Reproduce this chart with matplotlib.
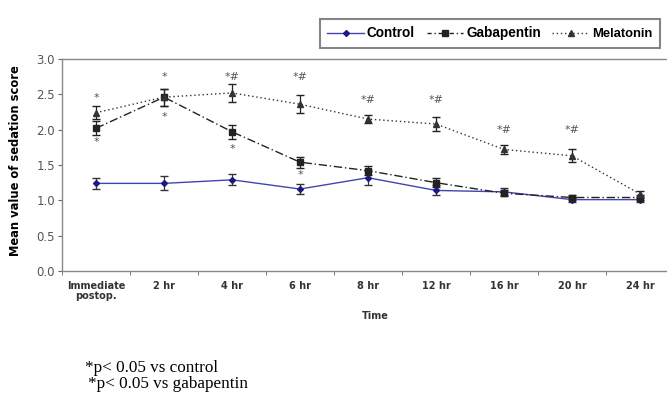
import matplotlib
matplotlib.use("Agg")
import matplotlib.pyplot as plt
from matplotlib.lines import Line2D
import numpy as np

categories = ["Immediate\npostop.", "2 hr", "4 hr", "6 hr", "8 hr", "12 hr", "16 hr", "20 hr", "24 hr"]
control = [1.24, 1.24, 1.29, 1.16, 1.32, 1.14, 1.12, 1.01, 1.01]
control_err = [0.08, 0.10, 0.08, 0.07, 0.10, 0.07, 0.05, 0.03, 0.03]
gabapentin = [2.02, 2.46, 1.97, 1.54, 1.42, 1.25, 1.10, 1.04, 1.04]
gabapentin_err = [0.10, 0.12, 0.10, 0.08, 0.06, 0.06, 0.04, 0.03, 0.03]
melatonin = [2.24, 2.46, 2.52, 2.36, 2.15, 2.08, 1.72, 1.63, 1.09]
melatonin_err = [0.09, 0.12, 0.13, 0.13, 0.06, 0.10, 0.07, 0.09, 0.04]

# significance annotations: (category index, y value, text)
sig_idx = [0, 0, 1, 1, 2, 2, 3, 3, 4, 5, 6, 7]
sig_y = [2.45, 1.82, 2.75, 2.18, 2.75, 1.72, 2.75, 1.36, 2.42, 2.42, 2.00, 2.00]
sig_txt = ["*", "*", "*", "*", "*#", "*", "*#", "*", "*#", "*#", "*#", "*#"]

fig = plt.figure(figsize=(6.67, 3.96), dpi=100)
ax = fig.add_axes([62/667, 125/396, 612/667, 212/396])

x = np.arange(len(categories))
blue = "#4444b0"
navy = "#1a1a80"
ax.errorbar(x, control, yerr=control_err, color=blue, lw=1.0, marker="D", ms=3,
            mfc=navy, mec=navy, ecolor="#333333", elinewidth=0.9, capsize=3)
ax.errorbar(x, gabapentin, yerr=gabapentin_err, color="#222222", lw=1.0, ls=(0, (6, 2, 1, 2)),
            marker="s", ms=4, ecolor="#222222", elinewidth=0.9, capsize=3)
ax.errorbar(x, melatonin, yerr=melatonin_err, color="#333333", lw=1.0, ls=(0, (1, 2)),
            marker="^", ms=4.5, ecolor="#222222", elinewidth=0.9, capsize=3)

for i, yv, t in zip(sig_idx, sig_y, sig_txt):
    ax.text(i, yv, t, ha="center", va="center", fontsize=8, color="#555555")

ax.set_xlim(-0.5, len(categories) - 0.5)
ax.set_ylim(0, 3.0)
yt = np.arange(0, 3.01, 0.5)
ax.set_yticks(yt)
ax.set_yticklabels([f"{v:.1f}" for v in yt], fontsize=8.5, color="#555555")
ax.set_xticks(x)
ax.set_xticklabels(categories, fontsize=7, fontweight="bold", color="#333333", linespacing=1.0)
ax.set_xticks(np.arange(-0.5, len(categories), 1), minor=True)
ax.tick_params(axis="x", which="major", length=0, pad=7)
ax.tick_params(axis="x", which="minor", length=3, color="#666666")
ax.tick_params(axis="y", length=3, color="#666666", pad=2)
for s in ax.spines.values():
    s.set_color("#888888")
    s.set_linewidth(1.0)
ax.spines["right"].set_visible(False)

ax.set_ylabel("Mean value of sedation score", fontsize=8.3, fontweight="bold")
ax.yaxis.set_label_coords(-40/612, 0.52)
fig.text(375/667, 1 - 316/396, "Time", fontsize=7, fontweight="bold", ha="center", va="center", color="#333333")

handles = [
    Line2D([], [], color=blue, lw=1.0, marker="D", ms=3, mfc=navy, mec=navy),
    Line2D([], [], color="#222222", lw=1.0, ls=(0, (3, 2, 1, 2)), marker="s", ms=4),
    Line2D([], [], color="#333333", lw=1.0, ls=(0, (1, 2)), marker="^", ms=4),
]
leg = fig.legend(handles, ["Control", "Gabapentin", "Melatonin"], loc="upper left",
                 bbox_to_anchor=(320/667, 1 - 19/396), ncol=3,
                 prop={"weight": "bold", "size": 9.8, "family": "Liberation Sans"},
                 frameon=True, fancybox=False,
                 handlelength=2.7, columnspacing=0.85, handletextpad=0.2, borderpad=0.55,
                 borderaxespad=0)
leg.get_texts()[2].set_fontsize(9.4)
leg.get_frame().set_edgecolor("#666666")
leg.get_frame().set_linewidth(1.5)

fig.text(85/667, 1 - 368/396, "*p< 0.05 vs control", fontsize=12.3, family="Liberation Serif", va="center")
fig.text(88/667, 1 - 384/396, "*p< 0.05 vs gabapentin", fontsize=12.3, family="Liberation Serif", va="center")

fig.savefig("out.png", dpi=100)
